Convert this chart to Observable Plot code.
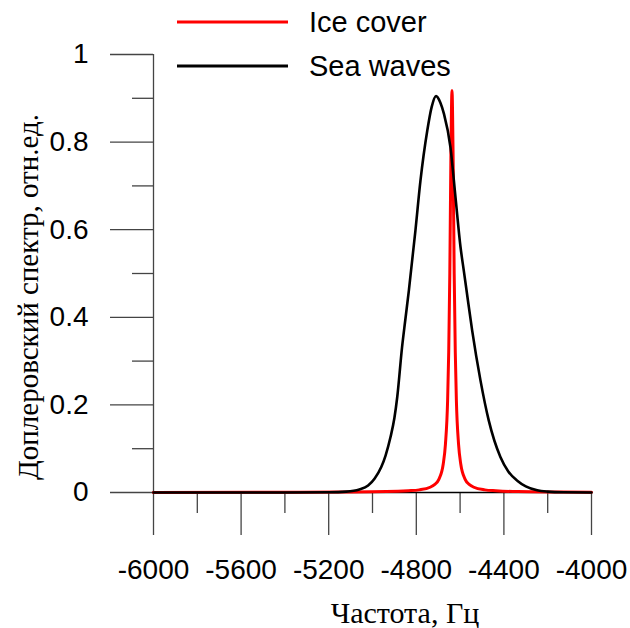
<!DOCTYPE html>
<html>
<head>
<meta charset="utf-8">
<script src="https://cdn.jsdelivr.net/npm/d3@7"></script>
<script src="https://cdn.jsdelivr.net/npm/@observablehq/plot@0.6"></script>
<style>
  body { margin: 0; background: white; }
  #wrap { position: relative; width: 630px; height: 628px; overflow: hidden; }
  #overlay { position: absolute; left: 0; top: 0; pointer-events: none; }
</style>
</head>
<body>
<div id="wrap"></div>
<script>
// Ice cover spectrum (frequency, Hz ; relative value)
const iceFreq = [-6000, -5400, -5137, -4937, -4837, -4787, -4737, -4717, -4697, -4677, -4667, -4657, -4652, -4647, -4642, -4637, -4632, -4627, -4622, -4617, -4607, -4597, -4577, -4557, -4537, -4487, -4437, -4337, -4137, -4000];
const iceVal  = [0, 0.0005, 0.001, 0.002, 0.004, 0.006, 0.012, 0.018, 0.030, 0.065, 0.11, 0.21, 0.32, 0.50, 0.77, 0.918, 0.77, 0.50, 0.32, 0.21, 0.11, 0.065, 0.030, 0.018, 0.012, 0.006, 0.004, 0.002, 0.001, 0.0005];

// Sea waves spectrum
const seaFreq = [-6000, -5400, -5200, -5120, -5060, -5020, -4990, -4960, -4940, -4918, -4900, -4887, -4865, -4850, -4834, -4804, -4781, -4750, -4730, -4710, -4690, -4674, -4644, -4621, -4598, -4583, -4571, -4545, -4507, -4469, -4416, -4380, -4339, -4300, -4248, -4200, -4128, -4000];
const seaVal  = [0, 0, 0.0005, 0.002, 0.007, 0.016, 0.032, 0.058, 0.085, 0.126, 0.17, 0.218, 0.332, 0.395, 0.461, 0.598, 0.712, 0.826, 0.88, 0.905, 0.89, 0.865, 0.788, 0.674, 0.560, 0.506, 0.463, 0.370, 0.256, 0.164, 0.081, 0.048, 0.027, 0.014, 0.005, 0.002, 0.0005, 0];

const xMajor = [-6000, -5600, -5200, -4800, -4400, -4000];
const xMinor = [-5800, -5400, -5000, -4600, -4200];
const yMajor = [0, 0.2, 0.4, 0.6, 0.8, 1];
const yMinor = [0.1, 0.3, 0.5, 0.7, 0.9];

const seriesNames = ["Ice cover", "Sea waves"];
const seriesColors = ["red", "black"];
const xTitle = "Частота, Гц";
const yTitle = "Доплеровский спектр, отн.ед.";

const ice = iceFreq.map((f, i) => ({f, v: iceVal[i]}));
const sea = seaFreq.map((f, i) => ({f, v: seaVal[i]}));

const tickStroke = "#444";
const chart = Plot.plot({
  width: 630,
  height: 628,
  marginLeft: 153,
  marginRight: 39,
  marginTop: 54,
  marginBottom: 136,
  x: {domain: [-6000, -4000]},
  y: {domain: [0, 1]},
  style: {fontFamily: "'Liberation Sans', Arial, sans-serif", fontSize: "28px", color: "black", background: "white"},
  marks: [
    Plot.axisY({ticks: yMajor, tickSize: 43, tickPadding: 22, tickFormat: d => String(d), label: null, stroke: tickStroke, strokeWidth: 1.3, fontSize: 28}),
    Plot.axisY({ticks: yMinor, tickSize: 21, tickFormat: () => "", label: null, stroke: tickStroke, strokeWidth: 1.3}),
    Plot.axisX({ticks: xMajor, tickSize: 43, tickPadding: 24, tickFormat: d => String(d), label: null, stroke: tickStroke, strokeWidth: 1.3, fontSize: 28}),
    Plot.axisX({ticks: xMinor, tickSize: 21, tickFormat: () => "", label: null, stroke: tickStroke, strokeWidth: 1.3}),
    Plot.ruleY([0], {stroke: "black", strokeWidth: 1.3}),
    Plot.ruleX([-6000], {stroke: tickStroke, strokeWidth: 1.3}),
    Plot.line(ice, {x: "f", y: "v", stroke: seriesColors[0], strokeWidth: 3, curve: "monotone-x"}),
    Plot.line(sea, {x: "f", y: "v", stroke: seriesColors[1], strokeWidth: 2.6, curve: "monotone-x"})
  ]
});

const wrap = document.getElementById("wrap");
wrap.appendChild(chart);

// Overlay: legend and axis titles
const ns = "http://www.w3.org/2000/svg";
const ov = document.createElementNS(ns, "svg");
ov.setAttribute("id", "overlay");
ov.setAttribute("width", 630);
ov.setAttribute("height", 628);
function el(tag, attrs, text) {
  const e = document.createElementNS(ns, tag);
  for (const k in attrs) e.setAttribute(k, attrs[k]);
  if (text != null) e.textContent = text;
  ov.appendChild(e);
  return e;
}
const legendY = [22, 66];
seriesNames.forEach((name, i) => {
  el("line", {x1: 177, x2: 288, y1: legendY[i], y2: legendY[i], stroke: seriesColors[i], "stroke-width": 3});
  el("text", {x: 309, y: legendY[i] + 10, "font-family": "'Liberation Sans', Arial, sans-serif", "font-size": 29, fill: "black"}, name);
});
el("text", {x: 405, y: 623, "text-anchor": "middle", "font-family": "'Liberation Serif', 'Times New Roman', serif", "font-size": 30, fill: "black"}, xTitle);
el("text", {transform: "translate(38,297) rotate(-90)", "text-anchor": "middle", "font-family": "'Liberation Serif', 'Times New Roman', serif", "font-size": 29, fill: "black"}, yTitle);
wrap.appendChild(ov);
</script>
</body>
</html>
